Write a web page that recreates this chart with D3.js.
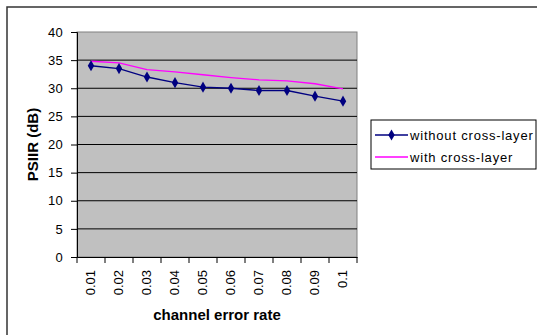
<!DOCTYPE html>
<html><head><meta charset="utf-8">
<script src="https://cdn.jsdelivr.net/npm/d3@7"></script>
<style>html,body{margin:0;padding:0;background:#fff;overflow:hidden}</style>
</head><body>
<svg id="c" width="537" height="335"></svg>
<script>
const categories = ["0.01","0.02","0.03","0.04","0.05","0.06","0.07","0.08","0.09","0.1"];
const withoutCross = [34.0, 33.5, 32.0, 31.0, 30.2, 30.0, 29.6, 29.6, 28.6, 27.7];
const withCross = [34.8, 34.5, 33.3, 32.9, 32.4, 31.9, 31.5, 31.3, 30.8, 29.9];
const yTicks = [0,5,10,15,20,25,30,35,40];
const seriesNames = ["without cross-layer", "with cross-layer"];

const svg = d3.select("#c");
const font = "Arial, 'Liberation Sans', sans-serif";
// outer frame
svg.append("rect").attr("x",7).attr("y",7).attr("width",540).attr("height",340)
  .attr("fill","#fff").attr("stroke","#333").attr("stroke-width",1.5);

const L=77, R=357, T=32, B=257;
const x = d3.scaleBand().domain(categories).range([L,R]);
const y = d3.scaleLinear().domain([0,40]).range([B,T]);

svg.append("rect").attr("x",L).attr("y",T).attr("width",R-L).attr("height",B-T)
  .attr("fill","#c0c0c0").attr("stroke","#808080").attr("stroke-width",1);

svg.append("g").selectAll("line").data(yTicks.filter(d=>d>0&&d<40)).join("line")
  .attr("x1",L).attr("x2",R).attr("y1",d=>y(d)).attr("y2",d=>y(d))
  .attr("stroke","#000").attr("stroke-width",1);

// y axis
const ya = svg.append("g").attr("transform",`translate(${L},0)`)
  .call(d3.axisLeft(y).tickValues(yTicks).tickSize(6).tickPadding(8));
ya.select(".domain").attr("stroke","#000");
ya.selectAll("line").attr("stroke","#000");
ya.selectAll("text").attr("font-family",font).attr("font-size",13).attr("fill","#000").attr("letter-spacing",0.3);

// x axis
const xa = svg.append("g").attr("transform",`translate(0,${B})`)
  .call(d3.axisBottom(x).tickSize(0).tickPadding(0));
xa.select(".domain").attr("stroke","#000");
xa.selectAll(".tick text").attr("font-family",font).attr("font-size",13).attr("fill","#000")
  .attr("text-anchor","end").attr("transform","translate(4,13) rotate(-90)").attr("dy",0).attr("y",0).attr("x",0);
svg.append("g").selectAll("line").data(categories.concat(["__end"])).join("line")
  .attr("x1",(d,i)=>L+i*x.step()).attr("x2",(d,i)=>L+i*x.step())
  .attr("y1",B).attr("y2",B+6).attr("stroke","#000");

const line = d3.line().x((d,i)=>x(categories[i])+x.bandwidth()/2).y(d=>y(d));
svg.append("path").datum(withCross).attr("d",line).attr("fill","none")
  .attr("stroke","#ff00ff").attr("stroke-width",1.3);
svg.append("path").datum(withoutCross).attr("d",line).attr("fill","none")
  .attr("stroke","#000080").attr("stroke-width",1.3);
const diamond = d3.symbol().type(d3.symbolDiamond).size(36);
svg.append("g").selectAll("path").data(withoutCross).join("path")
  .attr("d",diamond).attr("fill","#000080")
  .attr("transform",(d,i)=>`translate(${x(categories[i])+x.bandwidth()/2},${y(d)})`);

// axis titles
svg.append("text").attr("x",(L+R)/2).attr("y",320).attr("text-anchor","middle")
  .attr("font-family",font).attr("font-size",15).attr("font-weight","bold").text("channel error rate");
svg.append("text").attr("transform",`translate(38,${(T+B)/2}) rotate(-90)`).attr("text-anchor","middle")
  .attr("font-family",font).attr("font-size",15).attr("font-weight","bold").text("PSIIR (dB)");

// legend
const lg = svg.append("g");
lg.append("rect").attr("x",371).attr("y",120).attr("width",165).attr("height",49)
  .attr("fill","#fff").attr("stroke","#000").attr("stroke-width",1);
const rows=[135,157];
lg.append("line").attr("x1",375).attr("x2",408).attr("y1",rows[0]).attr("y2",rows[0]).attr("stroke","#000080").attr("stroke-width",1.3);
lg.append("path").attr("d",diamond).attr("fill","#000080").attr("transform",`translate(391.5,${rows[0]})`);
lg.append("line").attr("x1",375).attr("x2",408).attr("y1",rows[1]).attr("y2",rows[1]).attr("stroke","#ff00ff").attr("stroke-width",1.3);
lg.selectAll("text.l").data(seriesNames).join("text").attr("x",410).attr("y",(d,i)=>rows[i]+5)
  .attr("font-family",font).attr("font-size",13).attr("letter-spacing",0.8).attr("fill","#000").text(d=>d);
</script>
</body></html>
